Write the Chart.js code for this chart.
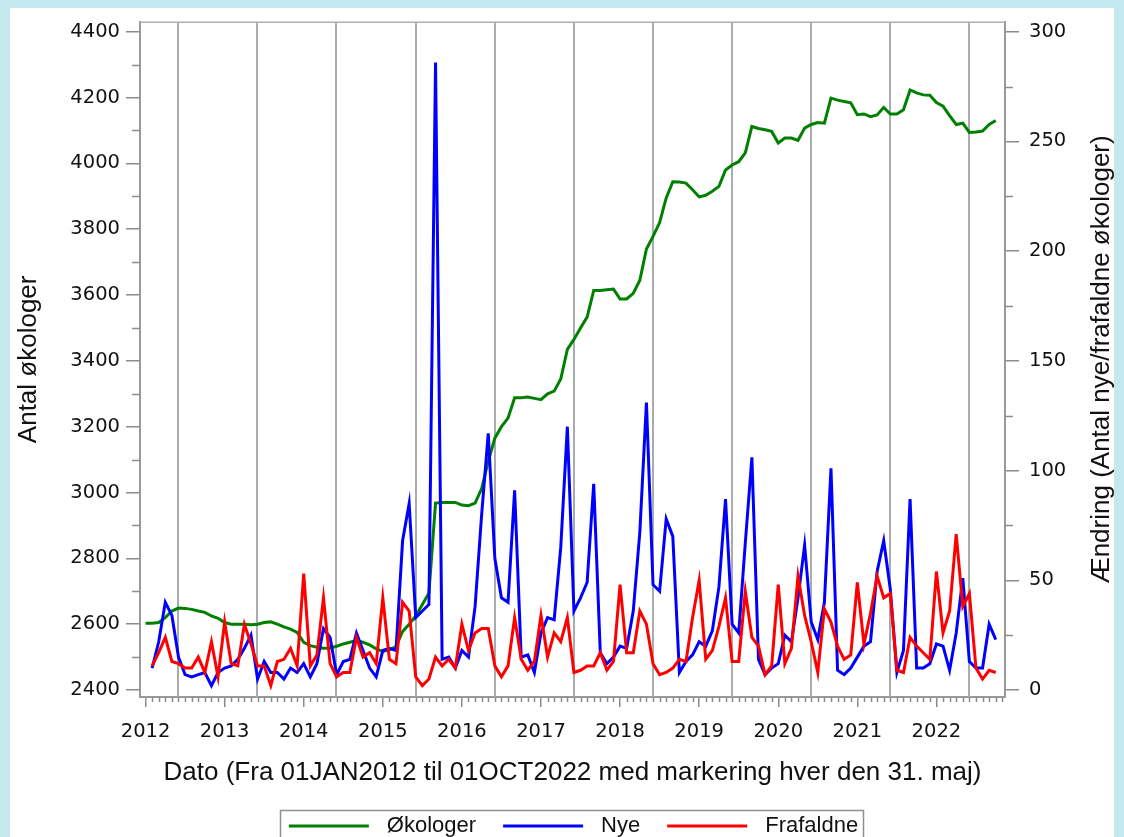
<!DOCTYPE html>
<html>
<head>
<meta charset="utf-8">
<script src="https://cdn.jsdelivr.net/npm/chart.js@4/dist/chart.umd.min.js"></script>
<style>
html,body{margin:0;padding:0;overflow:hidden;background:#c3e8ee;}
#c{position:absolute;left:0;top:0;}
</style>
</head>
<body>
<canvas id="c" width="1124" height="837"></canvas>
<script>
// ---- Data (monthly, Jan 2012 .. Oct 2022) ----
const startYear = 2012;
const okologer = [
  2603, 2603, 2605, 2620, 2640, 2649, 2648, 2645, 2640, 2636, 2625, 2618,
  2605, 2600, 2600, 2600, 2598, 2600, 2605, 2607, 2600, 2592, 2585, 2575,
  2545, 2535, 2530, 2527, 2528, 2533, 2540, 2545, 2550, 2545, 2537, 2525,
  2517, 2522, 2532, 2578, 2600, 2625, 2660, 2695, 2968, 2970, 2970, 2970,
  2962, 2960, 2968, 3012, 3095, 3165, 3200, 3226, 3288, 3288, 3290, 3286,
  3282, 3300, 3308, 3345, 3435, 3465, 3500, 3533, 3614, 3614, 3616, 3618,
  3588, 3588, 3605, 3645, 3740, 3778, 3820, 3895, 3944, 3943, 3940, 3920,
  3898, 3903, 3915, 3930, 3980, 3995, 4005, 4032, 4112, 4106, 4102, 4097,
  4062, 4077, 4077, 4070, 4107, 4118, 4124, 4122, 4198, 4192, 4188, 4184,
  4148, 4150, 4142, 4147, 4170, 4150, 4150, 4163, 4223, 4214, 4208, 4207,
  4185, 4174, 4145, 4118, 4122, 4094, 4095, 4098, 4118, 4130
];
const nye = [
  null, 10, 22, 40, 34, 15, 7, 6, 7, 8, 2, 8,
  10, 11, 14, 19, 25, 5, 13, 8, 8, 5, 10, 8,
  12, 6, 12, 28, 24, 7, 13, 14, 26, 18, 10, 6,
  18, 19, 18, 68, 85, 33, 36, 39, 286, 14, 15, 10,
  18, 15, 38, 80, 117, 60, 42, 40, 91, 15, 16, 8,
  26, 33, 32, 65, 120, 36, 42, 49, 94, 17, 12, 15,
  20, 19, 36, 72, 131, 48, 45, 78, 70, 8, 13, 16,
  22, 20, 27, 47, 87, 30, 26, 67, 106, 14, 7, 10,
  12, 25, 22, 42, 66, 31, 23, 40, 101, 9, 7, 10,
  15, 20, 22, 54, 68, 46, 8, 18, 87, 10, 10, 12,
  21, 20, 9, 26, 51, 13, 10, 10, 30, 23
];
const frafaldne = [
  null, 11, 17, 24, 13, 12, 10, 10, 15, 8, 22, 6,
  31, 12, 11, 30, 21, 11, 11, 2, 13, 14, 19, 11,
  53, 11, 16, 42, 12, 6, 8, 8, 24, 15, 17, 12,
  42, 14, 12, 40, 36, 6, 2, 5, 15, 11, 14, 10,
  30, 18, 26, 28, 28, 11, 6, 11, 33, 14, 9, 13,
  34, 15, 26, 22, 33, 8, 9, 11, 11, 17, 9, 13,
  48, 17, 17, 36, 30, 12, 7, 8, 10, 14, 13, 33,
  50, 14, 18, 29, 42, 13, 13, 45, 24, 20, 7, 11,
  48, 12, 19, 52, 34, 22, 8, 37, 31, 20, 14, 16,
  49, 21, 35, 52, 42, 44, 9, 8, 24, 20, 17, 14,
  54, 26, 36, 71, 38, 44, 10, 5, 9, 8
];
const leftTicks = [2400, 2600, 2800, 3000, 3200, 3400, 3600, 3800, 4000, 4200, 4400];
const leftMinor = [2500, 2700, 2900, 3100, 3300, 3500, 3700, 3900, 4100, 4300];
const rightTicks = [0, 50, 100, 150, 200, 250, 300];
const rightMinor = [25, 75, 125, 175, 225, 275];
const yearTicks = [2012, 2013, 2014, 2015, 2016, 2017, 2018, 2019, 2020, 2021, 2022];
const markYears = [2012, 2013, 2014, 2015, 2016, 2017, 2018, 2019, 2020, 2021, 2022];
const seriesLabels = ['Økologer', 'Nye', 'Frafaldne'];
const xTitle = 'Dato (Fra 01JAN2012 til 01OCT2022 med markering hver den 31. maj)';
const yTitle = 'Antal økologer';
const y1Title = 'Ændring (Antal nye/frafaldne økologer)';

// ---- helpers ----
function toPoints(arr) {
  const out = [];
  arr.forEach((v, i) => { if (v !== null) out.push({x: startYear + i / 12, y: v}); });
  return out;
}
const tickFont = {family: 'DejaVu Sans', size: 19.5};
const titleFont = {family: 'Liberation Sans', size: 26};
const axisGrey = '#999999';
const textCol = '#111111';

const decor = {
  id: 'decor',
  beforeDraw(chart) {
    const c = chart.ctx;
    c.save();
    c.fillStyle = '#c3e8ee';
    c.fillRect(0, 0, chart.width, chart.height);
    c.fillStyle = '#ffffff';
    c.fillRect(10, 8, 1104, chart.height);
    c.restore();
  },
  beforeDatasetsDraw(chart) {
    const {ctx, chartArea: a, scales: {x}} = chart;
    ctx.save();
    ctx.strokeStyle = '#a8acaf';
    ctx.lineWidth = 2;
    markYears.forEach(yr => {
      const px = Math.round(x.getPixelForValue(yr + 151 / 365));
      ctx.beginPath(); ctx.moveTo(px, a.top); ctx.lineTo(px, a.bottom); ctx.stroke();
    });
    // top frame line
    ctx.strokeStyle = '#b0b0b0';
    ctx.lineWidth = 1.5;
    ctx.beginPath(); ctx.moveTo(a.left, a.top + 0.5); ctx.lineTo(a.right, a.top + 0.5); ctx.stroke();
    ctx.restore();
  },
  afterDraw(chart) {
    const {ctx, chartArea: a, scales: {x, y, y1}} = chart;
    ctx.save();
    // minor ticks
    ctx.strokeStyle = '#8c8c8c';
    ctx.lineWidth = 1.5;
    for (let k = -1; k <= 131; k++) {
      if (k % 12 === 0) continue;
      const v = startYear + k / 12;
      if (v < x.min || v > x.max) continue;
      const px = Math.round(x.getPixelForValue(v)) + 0.5;
      ctx.beginPath(); ctx.moveTo(px, a.bottom); ctx.lineTo(px, a.bottom + 5); ctx.stroke();
    }
    leftMinor.forEach(v => {
      const py = Math.round(y.getPixelForValue(v)) + 0.5;
      ctx.beginPath(); ctx.moveTo(a.left - 8, py); ctx.lineTo(a.left, py); ctx.stroke();
    });
    rightMinor.forEach(v => {
      const py = Math.round(y1.getPixelForValue(v)) + 0.5;
      ctx.beginPath(); ctx.moveTo(a.right, py); ctx.lineTo(a.right + 8, py); ctx.stroke();
    });
    // right axis title (reads bottom to top)
    ctx.translate(1102, (a.top + a.bottom) / 2);
    ctx.rotate(-Math.PI / 2);
    ctx.font = `${titleFont.size}px "${titleFont.family}"`;
    ctx.fillStyle = textCol;
    ctx.textAlign = 'center';
    ctx.textBaseline = 'middle';
    ctx.fillText(y1Title, 0, 0);
    ctx.restore();

    // legend
    ctx.save();
    ctx.font = '22px "Liberation Sans"';
    const items = chart.data.datasets.map(d => ({label: d.label, color: d.borderColor, w: ctx.measureText(d.label).width}));
    const lineLen = 80, gapLT = 18, gapItem = 27;
    const total = items.reduce((s, it) => s + lineLen + gapLT + it.w, 0) + gapItem * (items.length - 1);
    let x0 = (a.left + a.right) / 2 - total / 2 + 1;
    const cy = 826;
    ctx.strokeStyle = '#8f8f8f';
    ctx.lineWidth = 1.5;
    ctx.strokeRect(Math.round(x0 - 9) + 0.5, 810.5, Math.round(total + 14), 40);
    items.forEach(it => {
      ctx.strokeStyle = it.color;
      ctx.lineWidth = 3;
      ctx.beginPath(); ctx.moveTo(x0, cy); ctx.lineTo(x0 + lineLen, cy); ctx.stroke();
      ctx.fillStyle = textCol;
      ctx.textAlign = 'left';
      ctx.textBaseline = 'middle';
      ctx.fillText(it.label, x0 + lineLen + gapLT, cy);
      x0 += lineLen + gapLT + it.w + gapItem;
    });
    ctx.restore();
  }
};

new Chart(document.getElementById('c'), {
  type: 'line',
  data: {
    datasets: [
      {label: seriesLabels[0], data: toPoints(okologer), yAxisID: 'y', borderColor: '#008000', backgroundColor: '#008000', borderWidth: 3, pointRadius: 0, tension: 0, order: 2},
      {label: seriesLabels[1], data: toPoints(nye), yAxisID: 'y1', borderColor: '#0000ff', backgroundColor: '#0000ff', borderWidth: 3, pointRadius: 0, tension: 0, order: 1},
      {label: seriesLabels[2], data: toPoints(frafaldne), yAxisID: 'y1', borderColor: '#ff0000', backgroundColor: '#ff0000', borderWidth: 3, pointRadius: 0, tension: 0, order: 0}
    ]
  },
  options: {
    responsive: false,
    animation: false,
    devicePixelRatio: 1,
    layout: {padding: {left: 10, right: 0, top: 20, bottom: 30}},
    plugins: {legend: {display: false}, tooltip: {enabled: false}},
    scales: {
      x: {
        type: 'linear', min: 2011.93, max: 2022.867,
        afterBuildTicks: s => { s.ticks = yearTicks.map(v => ({value: v})); },
        afterFit: s => { s.height = 110; },
        ticks: {callback: v => String(v), font: tickFont, color: textCol, padding: 13, maxRotation: 0, autoSkip: false},
        grid: {drawOnChartArea: false, tickLength: 10, color: '#8c8c8c', lineWidth: 1.5},
        border: {color: axisGrey, width: 2},
        title: {display: true, text: xTitle, font: titleFont, color: textCol, padding: {top: 0, bottom: 19}}
      },
      y: {
        position: 'left', min: 2378.8, max: 4430.3,
        afterBuildTicks: s => { s.ticks = leftTicks.map(v => ({value: v})); },
        afterFit: s => { s.width = 130; },
        ticks: {callback: v => String(v), font: tickFont, color: textCol, padding: 6},
        grid: {drawOnChartArea: false, tickLength: 14, color: '#8c8c8c', lineWidth: 1.5},
        border: {color: axisGrey, width: 2},
        title: {display: true, text: yTitle, font: titleFont, color: textCol, padding: {top: 3, bottom: 0}}
      },
      y1: {
        position: 'right', min: -3.18, max: 304.55,
        afterBuildTicks: s => { s.ticks = rightTicks.map(v => ({value: v})); },
        afterFit: s => { s.width = 119; },
        ticks: {callback: v => String(v), font: tickFont, color: textCol, padding: 10},
        grid: {drawOnChartArea: false, tickLength: 14, color: '#8c8c8c', lineWidth: 1.5},
        border: {color: axisGrey, width: 2},
        title: {display: false}
      }
    }
  },
  plugins: [decor]
});
</script>
</body>
</html>
